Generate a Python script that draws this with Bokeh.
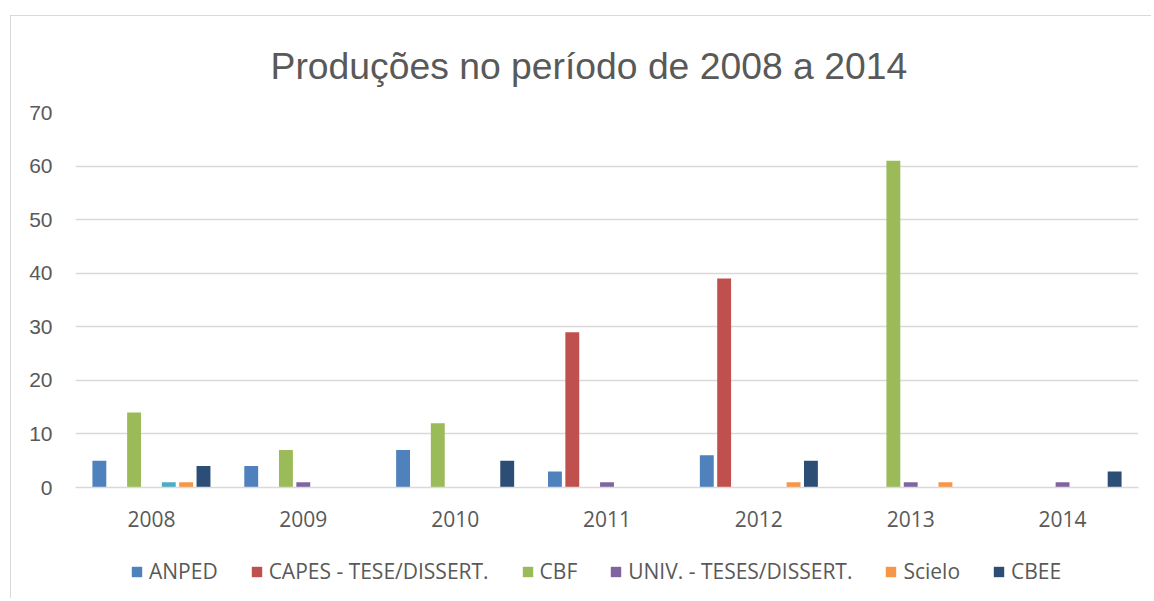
from bokeh.plotting import figure
from bokeh.layouts import column
from bokeh.models import ColumnDataSource, FactorRange, Legend, LegendItem, Title
from bokeh.transform import dodge
from bokeh.embed import file_html
from bokeh.resources import INLINE

years = ["2008", "2009", "2010", "2011", "2012", "2013", "2014"]
anped = [5, 4, 7, 3, 6, 0, 0]
capes = [0, 0, 0, 29, 39, 0, 0]
cbf = [14, 7, 12, 0, 0, 61, 0]
univ = [0, 1, 0, 1, 0, 1, 1]
hidden = [1, 0, 0, 0, 0, 0, 0]
scielo = [1, 0, 0, 0, 1, 1, 0]
cbee = [4, 0, 5, 0, 5, 0, 3]

series = [
    ("ANPED", "anped", anped, "#4F81BD"),
    ("CAPES - TESE/DISSERT.", "capes", capes, "#C0504D"),
    ("CBF", "cbf", cbf, "#9BBB59"),
    ("UNIV. - TESES/DISSERT.", "univ", univ, "#8064A2"),
    (None, "hidden", hidden, "#4BACC6"),
    ("Scielo", "scielo", scielo, "#F79646"),
    ("CBEE", "cbee", cbee, "#2C4D75"),
]

data = {"years": years}
for _, key, vals, _c in series:
    data[key] = vals
source = ColumnDataSource(data)

W = 1140
p = figure(x_range=FactorRange(*years), y_range=(0, 70), width=W, height=524,
           output_backend="svg", toolbar_location=None,
           min_border_left=64, min_border_right=13, min_border_top=96,
           min_border_bottom=53)

slot = 0.8 / 7
bw = slot * 0.8
for i, (label, key, vals, color) in enumerate(series):
    p.vbar(x=dodge("years", (i - 3) * slot, range=p.x_range), top=key,
           width=bw, source=source, fill_color=color, line_color=None)

p.title = Title(text="Produções no período de 2008 a 2014", align="left",
                text_font="Liberation Sans", text_font_size="37.3px",
                text_font_style="normal", text_color="#595959", offset=195,
                standoff=52)

p.outline_line_color = None
p.xgrid.grid_line_color = None
p.ygrid.grid_line_color = "#D9D9D9"
p.ygrid.grid_line_width = 1.5
p.yaxis.ticker = list(range(0, 71, 10))
p.yaxis.axis_line_color = None
p.yaxis.major_tick_line_color = None
p.yaxis.minor_tick_line_color = None
p.yaxis.major_tick_out = 0
p.yaxis.major_label_standoff = 23
p.yaxis.major_label_text_font = "Liberation Sans"
p.yaxis.major_label_text_font_size = "21px"
p.yaxis.major_label_text_color = "#595959"

p.xaxis.axis_line_color = "#D9D9D9"
p.xaxis.axis_line_width = 1.5
p.xaxis.major_tick_line_color = None
p.xaxis.minor_tick_line_color = None
p.xaxis.major_tick_out = 0
p.xaxis.major_label_standoff = 23
p.xaxis.major_label_text_font = "Open Sans"
p.xaxis.major_label_text_font_size = "21px"
p.xaxis.major_label_text_color = "#595959"

# legend strip
lg = figure(width=W, height=58, x_range=(0, 1), y_range=(0, 1),
            output_backend="svg", toolbar_location=None,
            min_border_left=0, min_border_right=0, min_border_top=0,
            min_border_bottom=0)
lg.axis.visible = False
lg.grid.visible = False
lg.outline_line_color = None
items = []
for label, key, vals, color in series:
    if label:
        r = lg.vbar(x=[-5], top=[-5], width=0.1, fill_color=color, line_color=None)
        items.append(LegendItem(label=label, renderers=[r]))

legend = Legend(items=items, orientation="horizontal", location=(55, 13),
                label_text_font="Open Sans", label_text_font_size="21px",
                label_text_color="#595959", glyph_width=13, glyph_height=13,
                label_standoff=6, spacing=32, border_line_color=None,
                background_fill_alpha=0, margin=0, padding=0)
lg.add_layout(legend)

layout = column(p, lg, spacing=0, margin=(15, 0, 0, 10),
                styles={"border-left": "1px solid #D9D9D9",
                        "border-top": "1px solid #D9D9D9"})
open("out.html", "w").write(file_html(layout, INLINE))
